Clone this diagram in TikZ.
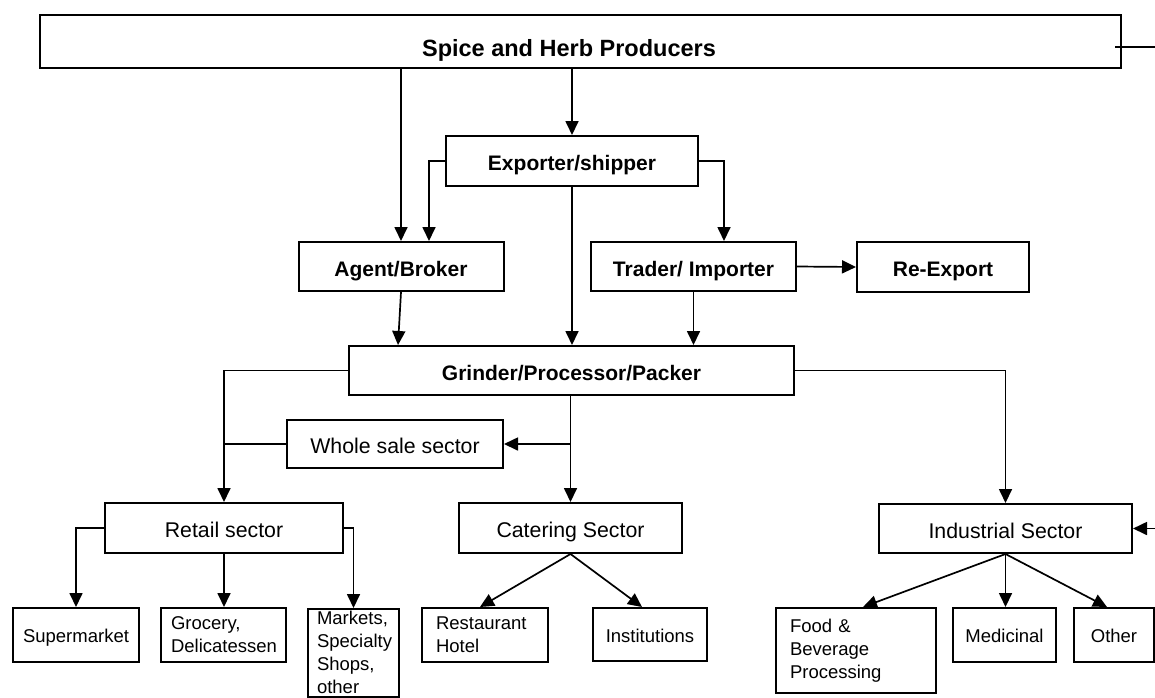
\documentclass[tikz,border=0pt]{standalone}
\usepackage{fontspec}
\setmainfont{Liberation Sans}
\usetikzlibrary{arrows.meta,calc}

\begin{document}
\begin{tikzpicture}[x=1pt,y=-1pt,
  box/.style={draw, line width=2pt, inner sep=0pt, align=center},
  heavy/.style={font=\fontsize{21}{25}\selectfont\bfseries, text height=21pt, text depth=2pt},
  plain/.style={font=\fontsize{21.3}{25}\selectfont, text height=21pt, text depth=2pt},
  small/.style={font=\fontsize{18.5}{23}\selectfont},
  oneline/.style={text height=17pt, text depth=1.7pt},
  wire/.style={line width=1.7pt},
  arr/.style={line width=1.7pt, -{Triangle[length=14pt,width=13pt]}},
]
\useasboundingbox (0,0) rectangle (1155,697);

% top level
\node[box, minimum width=1081pt, minimum height=53pt] (prod) at (580.5,41.5) {};
\node[font=\fontsize{23.5}{27}\selectfont\bfseries, inner sep=0pt] (prodtext) at (569,50) {Spice and Herb Producers};
\coordinate (pout) at (1155,47);
\draw[wire] ([xshift=-7pt]prod.east |- pout) -- (pout);

% trade tier
\node[box, heavy, minimum width=252pt, minimum height=50pt] (exp) at (572,161) {Exporter/shipper};
\node[box, heavy, minimum width=205pt, minimum height=49pt] (agent) at (401,266.5) {Agent/Broker};
\node[box, heavy, minimum width=205pt, minimum height=49pt] (trader) at (693.5,266.5) {Trader/ Importer};
\node[box, heavy, minimum width=172pt, minimum height=50pt] (reexp) at (943,267) {Re-Export};

% processing
\node[box, heavy, minimum width=445pt, minimum height=49pt] (grinder) at (571.5,370.5) {Grinder/Processor/Packer};
\node[box, plain, minimum width=216pt, minimum height=48pt] (whole) at (395,444) {Whole sale sector};

% sectors
\node[box, plain, minimum width=238pt, minimum height=50pt] (retail) at (224,528) {Retail sector};
\node[box, plain, minimum width=223pt, minimum height=50pt] (cater) at (570.5,528) {Catering Sector};
\node[box, plain, minimum width=253pt, minimum height=49pt] (indus) at (1005.5,528.5) {Industrial Sector};

% outlets
\node[box, small, oneline, minimum width=126pt, minimum height=54pt] (sup) at (76,635) {Supermarket};
\node[box, small, minimum height=54pt, inner xsep=10pt, text width=105pt, align=left] (groc) at (223.5,635) {Grocery,\\Delicatessen};
\node[box, small, anchor=north, inner xsep=9pt, inner ysep=2.5pt, text width=73pt, align=left] (mark) at (353.5,608) {Markets,\\Specialty\\Shops,\\other};
\node[box, small, minimum height=54pt, inner xsep=14pt, text width=98pt, align=left] (rest) at (485,635) {Restaurant\\Hotel};
\node[box, small, oneline, minimum width=114pt, minimum height=53pt] (inst) at (650,634.5) {Institutions};
\node[box, small, minimum height=85pt, inner xsep=14pt, text width=132pt, align=left] (food) at (856,650.5) {Food \&\\Beverage\\Processing};
\node[box, small, oneline, minimum width=103pt, minimum height=54pt] (med) at (1004.5,635) {Medicinal};
\node[box, small, oneline, minimum width=80pt, minimum height=54pt] (other) at (1114,635) {Other};

% producers to trade
\draw[arr] (agent.north |- prod.south) -- (agent.north);
\draw[arr] (exp.north |- prod.south) -- (exp.north);
\draw[arr] (exp.west) -| ([xshift=28pt]agent.north);
\draw[arr] (exp.east) -| ([xshift=30.5pt]trader.north);
\draw[arr] (trader.east) -- (reexp.west);

% trade to processing
\draw[arr] (exp.south) -- (exp.south |- grinder.north);
\draw[arr] (agent.south) -- ([xshift=-3pt]agent.south |- grinder.north);
\draw[arr] (trader.south) -- (trader.south |- grinder.north);

% processing to sectors
\draw[arr] (grinder.west) -| (retail.north);
\draw[wire] (whole.west) -- (whole.west -| retail.north);
\draw[arr] (cater.north |- grinder.south) -- (cater.north);
\draw[arr] (whole.east -| cater.north) -- (whole.east);
\draw[arr] (grinder.east) -| (indus.north);
\coordinate (rin) at (1155,528.5);
\draw[arr] (rin) -- (indus.east);

% sectors to outlets
\draw[arr] (retail.west) -| (sup.north);
\draw[arr] (retail.south) -- (retail.south |- groc.north);
\draw[arr] (retail.east) -| (mark.north);
\draw[arr] (cater.south) -- ([xshift=-5pt]rest.north);
\draw[arr] (cater.south) -- ([xshift=-8pt]inst.north);
\draw[arr] (indus.south) -- ([xshift=7pt]food.north);
\draw[arr] (indus.south) -- (indus.south |- med.north);
\draw[arr] (indus.south) -- ([xshift=-7pt]other.north);
\end{tikzpicture}
\end{document}
